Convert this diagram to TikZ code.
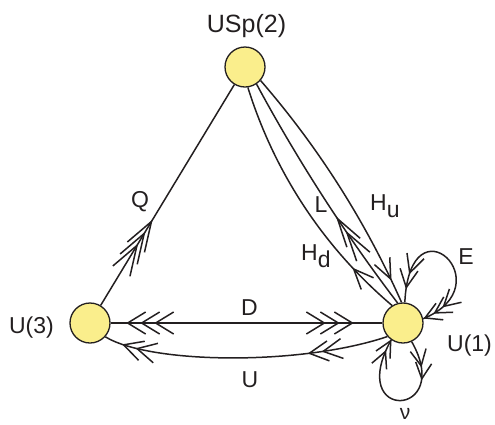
\documentclass[tikz,border=0pt]{standalone}
\usepackage{fontspec}
\setmainfont{Liberation Sans}
\usetikzlibrary{decorations.markings}
\definecolor{nodefill}{RGB}{250,238,140}
\definecolor{ink}{RGB}{35,31,32}
\newcommand{\chF}[2]{\draw[chev] (-#1,#2) -- (0pt,0pt) -- (-#1,-#2);}
\newcommand{\chB}[2]{\draw[chev] (#1,#2) -- (0pt,0pt) -- (#1,-#2);}
\begin{document}
\begin{tikzpicture}[x=1pt,y=-1pt,
  grp/.style={circle,draw=ink,fill=nodefill,line width=1.3pt,minimum size=40pt,inner sep=0pt},
  lab/.style={text=ink,font=\fontsize{23}{23}\selectfont,inner sep=0pt,anchor=base},
  conn/.style={draw=ink,line width=1.5pt},
  chev/.style={draw=ink,line width=1.5pt},
  deco/.style={postaction={decorate},decoration={markings,#1}}
]
\useasboundingbox (0,0) rectangle (495,424);

\node[grp] (sp) at (245,67) {};
\node[grp] (u3) at (90,323) {};
\node[grp] (u1) at (403,323) {};

% Q
\draw[conn, deco={mark=at position 70pt with {\chF{30pt}{10pt}},
                  mark=at position 84pt with {\chF{30pt}{10pt}},
                  mark=at position 98pt with {\chF{30pt}{10pt}}}]
  (u3) -- (sp);
% D
\draw[conn, deco={mark=at position 17pt with {\chB{18pt}{11pt}},
                  mark=at position 31pt with {\chB{18pt}{11pt}},
                  mark=at position 45pt with {\chB{18pt}{11pt}},
                  mark=at position -58pt with {\chF{18pt}{11pt}},
                  mark=at position -44pt with {\chF{18pt}{11pt}},
                  mark=at position -30pt with {\chF{18pt}{11pt}}}]
  (u3) -- (u1);
% U
\draw[conn, deco={mark=at position 20pt with {\chB{19pt}{10pt}},
                  mark=at position 34pt with {\chB{19pt}{10pt}},
                  mark=at position -80pt with {\chB{19pt}{10pt}},
                  mark=at position -66pt with {\chB{19pt}{10pt}}}]
  (u3.-42) .. controls (150,364) and (300,366) .. (u1.221);
% H_d
\draw[conn, deco={mark=at position 212pt with {\chB{20pt}{8.5pt}}}]
  (sp.278) .. controls (274.6,172.9) and (323.8,247.5) .. (u1.122);
% L
\draw[conn, deco={mark=at position 157pt with {\chB{29pt}{8pt}},
                  mark=at position 174pt with {\chB{29pt}{8pt}}}]
  (sp.304) .. controls (297.8,160.6) and (345,233.9) .. (u1.105);
% H_u
\draw[conn, deco={mark=at position 238pt with {\chF{20pt}{8.5pt}}}]
  (sp.319) .. controls (318.5,147.3) and (365.6,221.6) .. (u1.94);
% E loop
\draw[conn, deco={mark=at position 15pt with {\chB{18pt}{9pt}},
                  mark=at position 30pt with {\chB{18pt}{9pt}},
                  mark=at position -24pt with {\chF{16pt}{9pt}},
                  mark=at position -13pt with {\chF{16pt}{9pt}},
                  mark=at position -2pt with {\chF{16pt}{9pt}}}]
  (u1.85) .. controls (410,195) and (505,285) .. (u1.12);
% nu loop
\draw[conn, deco={mark=at position 26pt with {\chF{16pt}{8pt}},
                  mark=at position 39pt with {\chF{16pt}{8pt}},
                  mark=at position -13pt with {\chF{16pt}{8pt}},
                  mark=at position -1pt with {\chF{16pt}{8pt}}}]
  (u1.295) .. controls (455,418) and (345,423) .. (u1.235);

\node[lab,font=\fontsize{25}{25}\selectfont] (tsp) at (246.5,32) {USp(2)};
\node[lab] (tu3) at (31.5,333) {U(3)};
\node[lab] (tu1) at (469.5,351) {U(1)};
\node[lab] (tE) at (466,264) {E};
\node[lab] (tQ) at (140,207) {Q};
\node[lab] (tD) at (249.5,315) {D};
\node[lab] (tU) at (250,387) {U};
\node[lab] (tL) at (321,212) {L};
\node[lab,anchor=base west] (tHu) at (370,210) {H\raisebox{-7pt}{u}};
\node[lab,anchor=base west] (tHd) at (301,260) {H\raisebox{-7pt}{d}};
\node[lab,font=\fontsize{21}{21}\selectfont] (tnu) at (405,419.5) {ν};
\end{tikzpicture}
\end{document}
